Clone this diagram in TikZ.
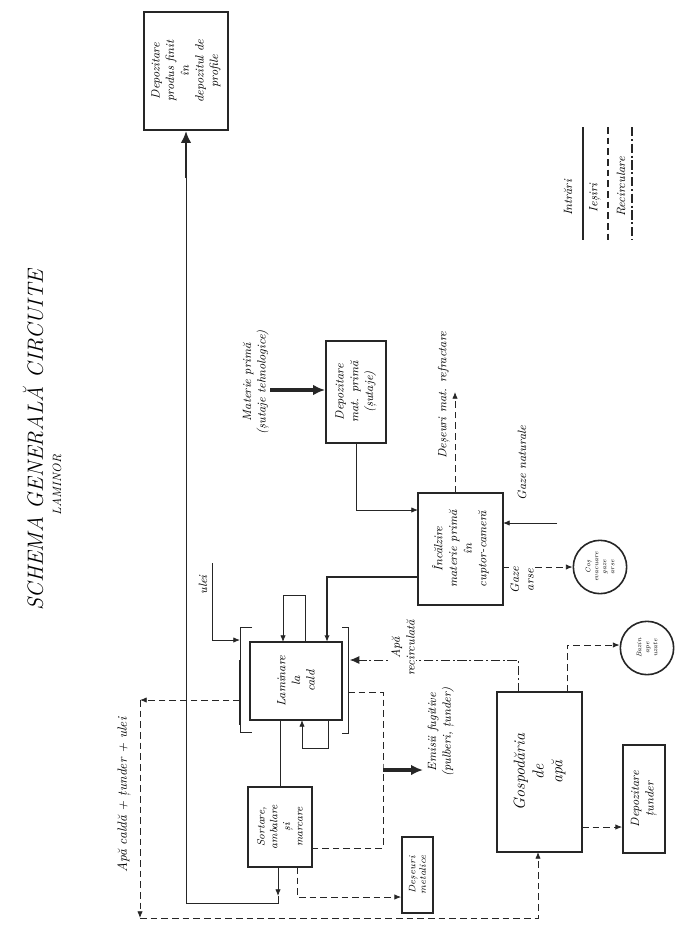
\documentclass[tikz,border=0pt]{standalone}
\usetikzlibrary{arrows.meta,calc}
\begin{document}
\begin{tikzpicture}[x=0.75pt,y=-0.75pt,
  ink/.style={draw=black!85,line width=0.6pt},
  box/.style={draw=black!85,line width=1.4pt,rotate=90,align=center,font=\itshape\small,inner sep=1pt,fill=white},
  circ/.style={draw=black!85,line width=1.2pt,circle,rotate=90,align=center,font=\itshape\tiny,inner sep=0pt,minimum size=40pt},
  lbl/.style={rotate=90,align=center,font=\itshape\small,inner sep=1pt},
  tip/.style={-{Latex[length=5pt,width=4pt]}},
  inline/.style={ink,tip},
  outline/.style={ink,dash pattern=on 5pt off 3pt,tip},
  recline/.style={ink,dash pattern=on 7pt off 2pt on 1.5pt off 2pt,tip},
  fat/.style={draw=black!85,line width=2.4pt,-{Latex[length=9pt,width=8pt]}},
]
\fill[white] (0,0) rectangle (677,931);
\useasboundingbox (0,0) rectangle (677,931);

% title
\node[lbl,font=\itshape\fontsize{16.5}{18}\selectfont] (title) at (33,440) {SCHEMA GENERALĂ CIRCUITE};
\node[lbl,font=\itshape\small] (subtitle) at (57,485) {LAMINOR};

% boxes
\node[box,minimum width=88.5pt,minimum height=63pt] (depfin) at (186,71) {Depozitare\\produs finit\\în\\depozitul de\\profile};
\node[box,minimum width=76.5pt,minimum height=45pt] (depmp) at (356,392) {Depozitare\\mat. primă\\(șutaje)};
\node[box,minimum width=84pt,minimum height=63.75pt] (incal) at (460.5,549) {Încălzire\\materie primă\\în\\cuptor-cameră};
\node[box,minimum width=58.5pt,minimum height=69pt] (lam) at (296,681) {Laminare\\la\\cald};
\node[box,minimum width=60pt,minimum height=48pt,font=\itshape\footnotesize] (sort) at (280,827) {Sortare,\\ambalare\\și\\marcare};
\node[box,minimum width=57pt,minimum height=23.25pt,font=\itshape\scriptsize] (desmet) at (417.5,875) {Deșeuri\\metalice};
\node[box,minimum width=120pt,minimum height=63.75pt,font=\itshape\large] (gosp) at (539.5,772) {Gospodăria\\de\\apă};
\node[box,minimum width=81pt,minimum height=31.5pt] (deptu) at (644,799) {Depozitare\\țunder};
\node[circ] (cos) at (600,567) {Coș\\evacuare\\gaze\\arse};
\node[circ] (bazin) at (647,648) {Bazin\\ape\\uzate};

% legend
\node[lbl] (lin) at (568,198) {Intrări};
\node[lbl] (lout) at (595,198) {Ieșiri};
\node[lbl] (lrec) at (621,187) {Recirculare};
\coordinate (l1a) at (583,127); \coordinate (l1b) at (583,240);
\coordinate (l2a) at (608,127); \coordinate (l2b) at (608,240);
\coordinate (l3a) at (632,127); \coordinate (l3b) at (632,240);
\draw[ink,line width=0.9pt] (l1a) -- (l1b);
\draw[ink,line width=0.9pt,dash pattern=on 5pt off 3pt] (l2a) -- (l2b);
\draw[ink,line width=0.9pt,dash pattern=on 7pt off 2pt on 1.5pt off 2pt] (l3a) -- (l3b);

% coordinates on box edges
\coordinate (mpA) at (270,390);
\coordinate (depmpB) at (356,443);
\coordinate (incalL1) at (418,510);
\coordinate (incalT) at (455,493);
\coordinate (refEnd) at (455,392);
\coordinate (gnA) at (557,523);
\coordinate (incalR1) at (503,523);
\coordinate (incalR2) at (503,567);
\coordinate (incalL2) at (418,577);
\coordinate (lamT3) at (327,642);
\coordinate (ulA) at (212,563);
\coordinate (brL) at (240,640);
\coordinate (lamT1) at (283,642);
\coordinate (lamT2) at (305,642);
\coordinate (lamB1) at (302,720);
\coordinate (lamB2) at (328,720);
\coordinate (lamB3) at (280,720);
\coordinate (sortT) at (280,787);
\coordinate (brR) at (350,660);
\coordinate (gospT1) at (518,692);
\coordinate (gospT2) at (567,692);
\coordinate (gospR) at (582,827);
\coordinate (gospB) at (538,852);
\coordinate (lamR) at (348,692);
\coordinate (sortR) at (312,848);
\coordinate (emisA) at (383,770);
\coordinate (emisB) at (423,770);
\coordinate (lamL) at (240,700);
\coordinate (cornA) at (140,700);
\coordinate (cornB) at (140,918);
\coordinate (sortB1) at (278,867);
\coordinate (sortB2) at (297,867);
\coordinate (fatA) at (186,178);

% brackets around rolling mill
\draw[ink] (252,627) -- (240,627) -- (240,732) -- (252,732);
\draw[ink,line width=1.2pt] (240,660) -- (240,725);
\draw[ink] (342,627) -- (348,627) -- (348,733) -- (342,733);

% inputs
\draw[fat] (mpA) -- (depmp.north |- mpA);
\draw[inline] (depmpB) |- (incalL1);
\draw[inline] (gnA) -- (incalR1);
\draw[ink,line width=1.1pt,tip] (incalL2) -| (lamT3);
\draw[inline] (ulA) |- (brL);
\draw[inline] (lamT2) -- (305,595) -| (lamT1);
\draw[inline] (lamB2) -- (328,748) -| (lamB1);
\draw[ink] (lamB3) -- (sortT);

% outputs
\draw[outline] (incalT) -- (refEnd);
\draw[outline] (incalR2) -- (cos.north |- incalR2);
\draw[outline] (gospT2) |- (bazin.north |- 0,645);
\draw[outline] (gospR) -- (deptu.north |- gospR);
\draw[ink,dash pattern=on 5pt off 3pt] (lamR) -| (emisA) |- (sortR);
\draw[fat] (emisA) -- (emisB);
\draw[outline] (lamL) -- (cornA);
\draw[outline] (cornA) -- (cornB);
\draw[outline] (cornB) -| (gospB);
\draw[outline] (sortB2) |- (desmet.north |- 0,897);

% recirculated water
\draw[recline,-{Latex[length=7pt,width=6pt]}] (gospT1) |- (brR);

% finished product
\draw[ink,tip] (sortB1) -- (278,896);
\draw[ink] (278,896) -- (278,903) -| (fatA);
\draw[fat,line width=2pt] (fatA) -- (depfin.west);

% labels
\node[lbl,anchor=west] (mp) at (256,436) {Materie primă\\(șutaje tehnologice)};
\node[lbl] (desref) at (444,395) {Deșeuri mat. refractare};
\node[lbl] (gn) at (522,463) {Gaze naturale};
\node[lbl,fill=white] (ga) at (522,580) {Gaze\\arse};
\node[lbl] (ulei) at (203,585) {ulei};
\node[lbl,font=\itshape\normalsize] (acal) at (124,795) {Apă caldă + țunder + ulei};
\node[lbl,fill=white] (arec) at (403,648) {Apă\\recirculată};
\node[lbl] (emis) at (441,732) {Emisii fugitive\\(pulberi, țunder)};
\end{tikzpicture}
\end{document}
